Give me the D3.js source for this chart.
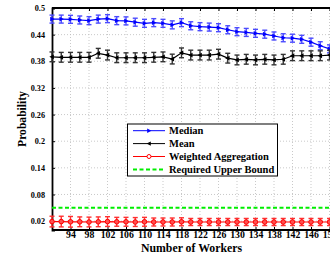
<!DOCTYPE html>
<html>
<head>
<script src="https://d3js.org/d3.v7.min.js"></script>
<style>
  body { margin: 0; background: #fff; }
  text { font-family: "Liberation Serif", "Times New Roman", serif; font-weight: bold; }
</style>
</head>
<body>
<svg width="330" height="255"></svg>
<script>
  var workers = [90,92,94,96,98,100,102,104,106,108,110,112,114,116,118,120,122,124,126,128,130,132,134,136,138,140,142,144,146,148,150];
  var median = [0.475,0.475,0.4745,0.473,0.4715,0.475,0.476,0.4715,0.471,0.468,0.4655,0.467,0.4655,0.462,0.467,0.460,0.458,0.457,0.4556,0.451,0.4466,0.445,0.443,0.441,0.437,0.433,0.432,0.4295,0.423,0.415,0.408];
  var medianErr = [0.009,0.009,0.009,0.009,0.009,0.009,0.009,0.009,0.009,0.009,0.009,0.009,0.009,0.009,0.009,0.009,0.009,0.009,0.009,0.009,0.009,0.009,0.009,0.009,0.009,0.009,0.009,0.009,0.009,0.009,0.009];
  var mean = [0.390,0.389,0.389,0.389,0.389,0.398,0.394,0.388,0.388,0.388,0.388,0.389,0.390,0.385,0.399,0.394,0.394,0.394,0.396,0.387,0.383,0.3845,0.383,0.3845,0.383,0.3845,0.3925,0.3925,0.3925,0.3925,0.394];
  var meanErr = [0.011,0.011,0.011,0.011,0.011,0.011,0.011,0.011,0.011,0.011,0.011,0.011,0.011,0.011,0.011,0.011,0.011,0.011,0.011,0.011,0.011,0.011,0.011,0.011,0.011,0.011,0.011,0.011,0.011,0.011,0.011];
  var weighted = [0.019,0.019,0.0185,0.0185,0.018,0.0185,0.019,0.0185,0.0185,0.018,0.0185,0.018,0.018,0.018,0.0185,0.018,0.018,0.018,0.018,0.018,0.018,0.018,0.018,0.018,0.018,0.018,0.018,0.018,0.018,0.018,0.018];
  var weightedErr = [0.012,0.012,0.012,0.011,0.011,0.011,0.011,0.010,0.010,0.010,0.010,0.009,0.009,0.009,0.009,0.008,0.008,0.008,0.008,0.008,0.008,0.008,0.008,0.008,0.008,0.008,0.008,0.008,0.008,0.008,0.008];
  var upperBound = 0.05;
  var xTicks = [94,98,102,106,110,114,118,122,126,130,134,138,142,146,150];
  var yTicks = [0.02,0.08,0.14,0.2,0.26,0.32,0.38,0.44,0.5];

  var svg = d3.select("svg");
  var x = d3.scaleLinear().domain([90, 150]).range([52, 329.5]);
  var y = d3.scaleLinear().domain([0, 0.5]).range([230, 8]);

  // grid
  svg.append("g").selectAll("line").data(xTicks).enter().append("line")
    .attr("x1", d => x(d)).attr("x2", d => x(d)).attr("y1", y(0)).attr("y2", y(0.5))
    .style("stroke", "#bbb").style("stroke-width", 0.8).style("stroke-dasharray", "1,2");
  svg.append("g").selectAll("line").data(yTicks).enter().append("line")
    .attr("x1", x(90)).attr("x2", 335).attr("y1", d => y(d)).attr("y2", d => y(d))
    .style("stroke", "#bbb").style("stroke-width", 0.8).style("stroke-dasharray", "1,2");

  // axes
  var xAxis = svg.append("g").attr("transform", "translate(0," + y(0) + ")")
    .call(d3.axisBottom(x).tickValues(xTicks).tickSize(-3).tickPadding(1).tickFormat(d3.format("d")));
  var xTop = svg.append("g").attr("transform", "translate(0," + y(0.5) + ")")
    .call(d3.axisTop(x).tickValues(xTicks).tickSize(-3).tickFormat(""));
  var yAxis = svg.append("g").attr("transform", "translate(" + x(90) + ",0)")
    .call(d3.axisLeft(y).tickValues(yTicks).tickSize(-3).tickPadding(7).tickFormat(d => d3.format("")(d)));
  [xAxis, xTop, yAxis].forEach(function(a) {
    a.select(".domain").style("stroke", "#000").style("stroke-width", 1.8);
    a.selectAll(".tick line").style("stroke", "#000");
  });
  xTop.select(".domain").attr("d", "M" + x(90) + ",0H340");
  xAxis.select(".domain").attr("d", "M" + x(90) + ",0H340");
  xAxis.selectAll("text").style("font-size", "9.8px").style("fill", "#000");
  yAxis.selectAll("text").style("font-size", "8.2px").style("fill", "#000");

  // required upper bound
  svg.append("line")
    .attr("x1", x(90)).attr("x2", 335).attr("y1", y(upperBound)).attr("y2", y(upperBound))
    .style("stroke", "#00ee00").style("stroke-width", 2).style("stroke-dasharray", "4,2.5");

  function drawSeries(vals, errs, color, barColor) {
    var pts = workers.map((w, i) => [w, vals[i], errs[i]]);
    var eb = svg.append("g").style("stroke", barColor).style("stroke-width", 1.4);
    pts.forEach(function(p) {
      eb.append("line").attr("x1", x(p[0])).attr("x2", x(p[0])).attr("y1", y(p[1] - p[2])).attr("y2", y(p[1] + p[2]));
      eb.append("line").attr("x1", x(p[0]) - 2.5).attr("x2", x(p[0]) + 2.5).attr("y1", y(p[1] - p[2])).attr("y2", y(p[1] - p[2]));
      eb.append("line").attr("x1", x(p[0]) - 2.5).attr("x2", x(p[0]) + 2.5).attr("y1", y(p[1] + p[2])).attr("y2", y(p[1] + p[2]));
    });
    svg.append("path").datum(pts)
      .attr("d", d3.line().x(d => x(d[0])).y(d => y(d[1])))
      .style("fill", "none").style("stroke", color).style("stroke-width", 1.2);
    return pts;
  }

  var mPts = drawSeries(median, medianErr, "#0000ff", "#4b4bff");
  svg.append("g").selectAll("path").data(mPts).enter().append("path")
    .attr("d", d => "M" + (x(d[0]) - 1.8) + "," + (y(d[1]) - 2.4) + "L" + (x(d[0]) + 2.6) + "," + y(d[1]) + "L" + (x(d[0]) - 1.8) + "," + (y(d[1]) + 2.4) + "Z")
    .style("fill", "#0000ff");

  var aPts = drawSeries(mean, meanErr, "#000", "#333");
  svg.append("g").selectAll("path").data(aPts).enter().append("path")
    .attr("d", d => "M" + (x(d[0]) + 1.8) + "," + (y(d[1]) - 2.4) + "L" + (x(d[0]) - 2.6) + "," + y(d[1]) + "L" + (x(d[0]) + 1.8) + "," + (y(d[1]) + 2.4) + "Z")
    .style("fill", "#000");

  var wPts = drawSeries(weighted, weightedErr, "#ff0000", "#ff3030");
  svg.append("g").selectAll("circle").data(wPts).enter().append("circle")
    .attr("cx", d => x(d[0])).attr("cy", d => y(d[1])).attr("r", 2.3)
    .style("fill", "#ff5050").style("stroke", "#ff0000").style("stroke-width", 1);

  // legend
  var lg = svg.append("g");
  lg.append("rect").attr("x", 127.5).attr("y", 124).attr("width", 150).attr("height", 52)
    .style("fill", "#fff").style("stroke", "#000").style("stroke-width", 1);
  var items = [["Median", "#0000ff", "right"], ["Mean", "#000", "left"], ["Weighted Aggregation", "#ff0000", "circle"], ["Required Upper Bound", "#00ee00", "dash"]];
  items.forEach(function(it, i) {
    var ly = 130.7 + i * 12.9;
    lg.append("line").attr("x1", 133).attr("x2", 165).attr("y1", ly).attr("y2", ly)
      .style("stroke", it[1]).style("stroke-width", it[2] == "dash" ? 2 : 1)
      .style("stroke-dasharray", it[2] == "dash" ? "4,2.5" : null);
    if (it[2] == "right") lg.append("path").attr("d", "M147.2," + (ly - 2.2) + "L151.4," + ly + "L147.2," + (ly + 2.2) + "Z").style("fill", it[1]);
    if (it[2] == "left") lg.append("path").attr("d", "M150.8," + (ly - 2.2) + "L146.6," + ly + "L150.8," + (ly + 2.2) + "Z").style("fill", it[1]);
    if (it[2] == "circle") lg.append("circle").attr("cx", 149).attr("cy", ly).attr("r", 2).style("fill", "#fff").style("stroke", it[1]);
    lg.append("text").attr("x", 169).attr("y", ly + 3.6).style("font-size", "10.5px").text(it[0]);
  });

  // titles
  svg.append("text").attr("x", 191.5).attr("y", 251.5).attr("text-anchor", "middle")
    .style("font-size", "11.8px").text("Number of Workers");
  svg.append("text").attr("text-anchor", "middle")
    .attr("transform", "translate(26,119)rotate(-90)")
    .style("font-size", "11.6px").text("Probability");
</script>
</body>
</html>
